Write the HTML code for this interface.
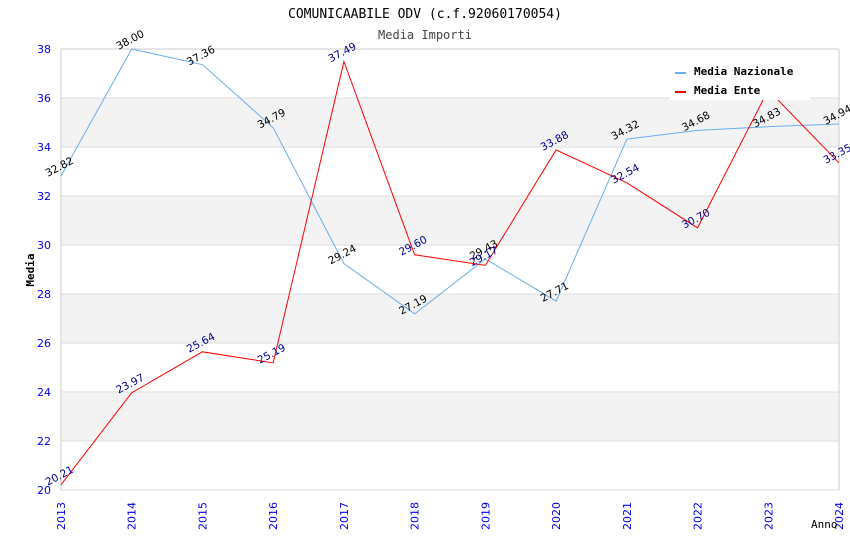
<!DOCTYPE html>
<html><head><meta charset="utf-8"><style>body{margin:0;background:#fff}svg{display:block;font-family:"DejaVu Sans Mono","Liberation Mono",monospace}</style></head>
<body>
<svg id="c" width="850" height="550">
<rect x="0" y="0" width="850" height="550" fill="#fff"/>
<text x="425" y="18" text-anchor="middle" font-size="13" fill="#000">COMUNICAABILE ODV (c.f.92060170054)</text>
<text x="425" y="39" text-anchor="middle" font-size="12" fill="#444">Media Importi</text>
<g id="grid"></g><g id="axes"></g><g id="series"></g>
<text x="34" y="270" transform="rotate(-90 34 270)" text-anchor="middle" font-size="11" font-weight="bold">Media</text>
<text x="811" y="528" font-size="11">Anno</text>
<g>
<rect x="670" y="58" width="140" height="42" fill="#fff"/>
<line x1="675" y1="73" x2="686" y2="73" stroke="#6aaef0" stroke-width="2"/>
<text x="694" y="75" font-size="11" font-weight="bold">Media Nazionale</text>
<line x1="675" y1="92" x2="686" y2="92" stroke="#ff0000" stroke-width="2"/>
<text x="694" y="94" font-size="11" font-weight="bold">Media Ente</text>
</g>
</svg>
<script>
const years=[2013,2014,2015,2016,2017,2018,2019,2020,2021,2022,2023,2024];
const nazionale=[32.82,38.00,37.36,34.79,29.24,27.19,29.43,27.71,34.32,34.68,34.83,34.94];
const ente=[20.21,23.97,25.64,25.19,37.49,29.60,29.17,33.88,32.54,30.70,36.33,33.35];
const yTicks=[20,22,24,26,28,30,32,34,36,38];
const NS='http://www.w3.org/2000/svg';
const x0=61,x1=839,y0=490,y1=49,ymin=20,ymax=38;
const X=i=>x0+(x1-x0)*i/(years.length-1);
const Y=v=>y0-(v-ymin)/(ymax-ymin)*(y0-y1);
const SANS='"DejaVu Sans","Liberation Sans",sans-serif';
function mk(t,a,p){const e=document.createElementNS(NS,t);for(const k in a)e.setAttribute(k,a[k]);p.appendChild(e);return e;}
const g=document.getElementById('grid'),ax=document.getElementById('axes'),s=document.getElementById('series');
for(let i=0;i<yTicks.length-1;i++){
  if(i%2===1){const r=mk('rect',{x:x0,y:Y(yTicks[i+1]),width:x1-x0,height:Y(yTicks[i])-Y(yTicks[i+1]),fill:'#f3f3f3'},g);
  
  }
}
yTicks.forEach(v=>{const l=mk('line',{x1:x0,x2:x1,y1:Y(v),y2:Y(v),stroke:'#dddddd'},g);


const t=mk('text',{x:x0-10,y:Y(v)+4,'text-anchor':'end','font-size':11,fill:'#0000ee','font-family':SANS},ax);t.textContent=v;

});
mk('line',{x1:x0,x2:x0,y1:y1,y2:y0,stroke:'#ccc'},ax);
mk('line',{x1:x1,x2:x1,y1:y1,y2:y0,stroke:'#ccc'},ax);
mk('line',{x1:x0,x2:x1,y1:y1,y2:y1,stroke:'#ccc'},ax);
years.forEach((yr,i)=>{const t=mk('text',{transform:`translate(${X(i)+4},530) rotate(-90)`,'font-size':11,fill:'#0000ee','font-family':SANS},ax);t.textContent=yr;

});
function series(vals,color,lab,name){
  const p=mk('polyline',{points:vals.map((v,i)=>X(i)+','+Y(v)).join(' '),fill:'none',stroke:color,'stroke-width':1},s);
  
  
  vals.forEach((v,i)=>{const px=X(i),py=Y(v);
    const t=mk('text',{transform:`translate(${px},${py-6}) rotate(-28)`,'text-anchor':'middle','font-size':10.5,fill:lab,'font-family':SANS},s);
    t.textContent=v.toFixed(2);
    
    });
}
series(nazionale,'#6aaef0','#000','nazionale');
series(ente,'#ff0000','#00008b','ente');
</script>
</body></html>
